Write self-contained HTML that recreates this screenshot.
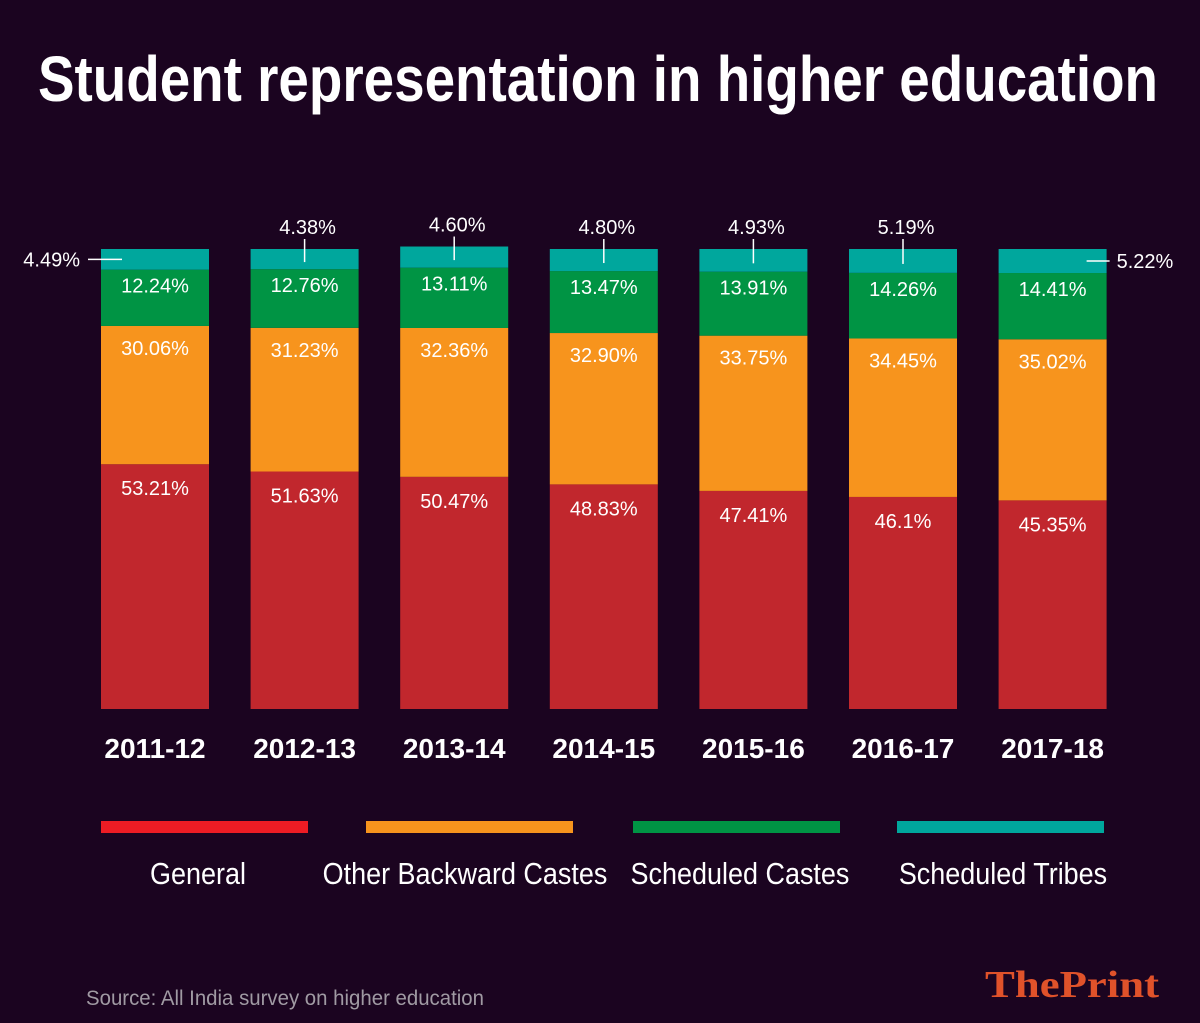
<!DOCTYPE html>
<html><head><meta charset="utf-8"><style>
html,body{margin:0;padding:0;background:#1b0420;}
svg{display:block;font-family:"Liberation Sans",sans-serif;}
</style></head><body>
<svg id="chart" width="1200" height="1023" viewBox="0 0 1200 1023">
<rect width="1200" height="1023" fill="#1b0420"/>
<text x="38" y="101" font-size="64" font-weight="bold" fill="#fff" textLength="1120" lengthAdjust="spacingAndGlyphs">Student representation in higher education</text>
<g id="bars"></g>
<g id="legend"></g>
<text x="86" y="1005" font-size="21" fill="#a09aa3" textLength="398" lengthAdjust="spacingAndGlyphs">Source: All India survey on higher education</text>
<text x="985" y="997" font-family="Liberation Serif,serif" font-size="38" font-weight="bold" fill="#e0522a" textLength="174" lengthAdjust="spacingAndGlyphs">ThePrint</text>
</svg>
<script>
const years=["2011-12","2012-13","2013-14","2014-15","2015-16","2016-17","2017-18"];
const general=[53.21,51.63,50.47,48.83,47.41,46.1,45.35];
const obc=[30.06,31.23,32.36,32.90,33.75,34.45,35.02];
const sc=[12.24,12.76,13.11,13.47,13.91,14.26,14.41];
const st=[4.49,4.38,4.60,4.80,4.93,5.19,5.22];
const genLabels=["53.21%","51.63%","50.47%","48.83%","47.41%","46.1%","45.35%"];
const obcLabels=["30.06%","31.23%","32.36%","32.90%","33.75%","34.45%","35.02%"];
const scLabels=["12.24%","12.76%","13.11%","13.47%","13.91%","14.26%","14.41%"];
const stLabels=["4.49%","4.38%","4.60%","4.80%","4.93%","5.19%","5.22%"];
const seriesNames=["General","Other Backward Castes","Scheduled Castes","Scheduled Tribes"];
const colors=["#c1272d","#f7941d","#009444","#00a79d"];
const legendColors=["#ed1c24","#f7941d","#009444","#00a79d"];
const NS="http://www.w3.org/2000/svg";
const base=709, scale=4.6, x0=101, step=149.6, bw=108;
const yS=v=>v*scale;
const xS=i=>x0+i*step;
const g=document.getElementById('bars');
function mk(tag,attrs,parent){const e=document.createElementNS(NS,tag);for(const k in attrs)e.setAttribute(k,attrs[k]);parent.appendChild(e);return e;}
const series=[general,obc,sc,st];
const labs=[genLabels,obcLabels,scLabels,stLabels];
const offs=[31,29,23];
years.forEach((yr,i)=>{
  let y=base;const x=xS(i);
  series.forEach((s,k)=>{
    const h=yS(s[i]);y-=h;
    const r=mk('rect',{x:x,y:y,width:bw,height:h,fill:colors[k]},g);
    
    
    if(k<3){
      const t=mk('text',{x:x+bw/2,y:y+offs[k],'font-size':20,fill:'#fff','text-anchor':'middle'},g);
      t.textContent=labs[k][i];
      
      
    } else {
      const cy=y+h/2;
      let t;
      if(i===0){
        const l=mk('line',{x1:88,x2:x+21,y1:cy,y2:cy,stroke:'#fff','stroke-width':1.5},g);
        
        t=mk('text',{x:80,y:cy+7,'font-size':20,fill:'#fff','text-anchor':'end'},g);
      } else if(i===years.length-1){
        const l=mk('line',{x1:x+bw-20,x2:x+bw+3,y1:cy,y2:cy,stroke:'#fff','stroke-width':1.5},g);
        
        t=mk('text',{x:x+bw+10,y:cy+7,'font-size':20,fill:'#fff'},g);
      } else {
        const l=mk('line',{x1:x+bw/2,x2:x+bw/2,y1:y-10,y2:cy+3,stroke:'#fff','stroke-width':1.5},g);
        
        t=mk('text',{x:x+bw/2+3,y:y-15,'font-size':20,fill:'#fff','text-anchor':'middle'},g);
      }
      t.textContent=labs[k][i];
      
      
    }
  });
  const yl=mk('text',{x:x+bw/2,y:758,'font-size':28,'font-weight':'bold',fill:'#fff','text-anchor':'middle'},g);
  yl.textContent=yr;
  
  
});
const lg=document.getElementById('legend');
const lx=[101,366,633,897];
const lc=[198,465,740,1003];
seriesNames.forEach((n,k)=>{
  const r=mk('rect',{x:lx[k],y:821,width:207,height:12,fill:legendColors[k]},lg);
  
  
  const c=lc[k];
  const t=mk('text',{x:c,y:884,'font-size':31,fill:'#fff','text-anchor':'middle',transform:'translate('+c+',0) scale(0.87,1) translate('+(-c)+',0)'},lg);
  t.textContent=n;
  
  
});
</script>
</body></html>
